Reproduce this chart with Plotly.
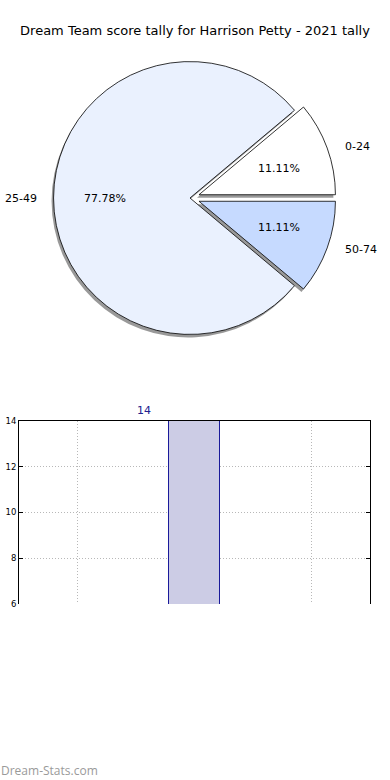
import math
import plotly.graph_objects as go

# ---- data ----
pie_labels = ["0-24", "25-49", "50-74"]
pie_values = [1, 7, 1]
pie_colors = ["#ffffff", "#eaf1fe", "#c6daff"]
pie_pulls = [0.07, 0.0, 0.07]

bar_x = [1]
bar_values = [14]
bar_grid_ticks = [0, 1, 2]
y_ticks = [6, 8, 10, 12, 14]

title_text = "Dream Team score tally for Harrison Petty - 2021 tally"
watermark = "Dream-Stats.com"

W, H = 390, 780


def px_x(p):
    return p / W


def px_y(p):
    return 1 - p / H


# pie geometry (pixels)
cx, cy = 190, 198
r_dom = 146
rx, ry = 142, 128  # used for label placement

total = sum(pie_values)
# plotly counterclockwise: first slice ends at the rotation angle -> start first slice at 3 o'clock
rotation = 90 - 360 * pie_values[0] / total

dom_x = [px_x(cx - r_dom), px_x(cx + r_dom)]
dom_y = [px_y(cy + r_dom), px_y(cy - r_dom)]
sh_dx, sh_dy = -2, 3
shadow_x = [px_x(cx - r_dom + sh_dx), px_x(cx + r_dom + sh_dx)]
shadow_y = [px_y(cy + r_dom + sh_dy), px_y(cy - r_dom + sh_dy)]

fig = go.Figure()

# shadow
fig.add_trace(go.Pie(
    labels=pie_labels, values=pie_values, sort=False, direction="counterclockwise",
    rotation=rotation, pull=pie_pulls, domain=dict(x=shadow_x, y=shadow_y),
    marker=dict(colors=["#8f8f8f"] * 3, line=dict(width=0)),
    textinfo="none", hoverinfo="skip", showlegend=False, opacity=0.9,
))
# main pie
fig.add_trace(go.Pie(
    labels=pie_labels, values=pie_values, sort=False, direction="counterclockwise",
    rotation=rotation, pull=pie_pulls, domain=dict(x=dom_x, y=dom_y),
    marker=dict(colors=pie_colors, line=dict(color="#000000", width=0.8)),
    textinfo="none", hoverinfo="label+percent", showlegend=False,
))

# labels and percentages placed from data angles
start = 0.0
annotations = []
for lab, v, pull in zip(pie_labels, pie_values, pie_pulls):
    frac = v / total
    mid = (start + frac / 2) * 2 * math.pi
    start += frac
    off = pull * 130
    ox = cx + off * math.cos(mid)
    oy = cy - off * math.sin(mid)
    tx = ox + 0.6 * rx * math.cos(mid)
    ty = oy - 0.6 * ry * math.sin(mid)
    annotations.append(dict(
        text=f"{frac * 100:.2f}%", x=px_x(tx), y=px_y(ty), xref="paper", yref="paper",
        showarrow=False, xanchor="center", yanchor="middle", borderpad=0,
        font=dict(family="DejaVu Sans", size=11, color="#000000"),
    ))
    right_side = math.cos(mid) >= 0
    lx = ox + 1.1 * rx * math.cos(mid)
    ly = oy - 1.1 * ry * math.sin(mid)
    annotations.append(dict(
        text=lab, x=px_x(lx), y=px_y(ly), xref="paper", yref="paper",
        showarrow=False, xanchor="left" if right_side else "right", yanchor="middle",
        xshift=-1 if right_side else 4, borderpad=0,
        font=dict(family="DejaVu Sans", size=11, color="#000000"),
    ))

# bar chart
fig.add_trace(go.Bar(
    x=bar_x, y=bar_values, width=0.44, xaxis="x", yaxis="y",
    marker=dict(color="#ccccE5", line=dict(color="#1a1a9a", width=1)),
    hoverinfo="y", showlegend=False,
))
for xv, yv in zip(bar_x, bar_values):
    annotations.append(dict(
        text=str(yv), x=xv, y=yv, xref="x", yref="y", showarrow=False,
        xanchor="center", yanchor="bottom", xshift=-51, yshift=2,
        font=dict(family="DejaVu Sans", size=11, color="#22228f"),
    ))

annotations.append(dict(
    text=watermark, x=0, y=px_y(770), xref="paper", yref="paper", showarrow=False,
    xanchor="left", yanchor="middle", borderpad=0,
    font=dict(family="Open Sans", size=12, color="#9a9a9a"),
))

grid_dash = "1px,2px"
fig.update_layout(
    width=W, height=H, margin=dict(l=0, r=0, t=0, b=0, autoexpand=False),
    paper_bgcolor="white", plot_bgcolor="white",
    title=dict(text=title_text, x=0.5, xref="paper", xanchor="center", y=px_y(30),
               yref="container", yanchor="middle",
               font=dict(family="DejaVu Sans", size=13, color="#000000")),
    xaxis=dict(domain=[px_x(19), px_x(370)], range=[-0.5, 2.5], side="top",
               tickvals=bar_grid_ticks, showticklabels=False, ticks="",
               showgrid=True, gridcolor="#b8b8b8", griddash=grid_dash, gridwidth=1,
               showline=True, linecolor="#000000", linewidth=1, zeroline=False,
               fixedrange=True, automargin=False),
    yaxis=dict(domain=[px_y(604), px_y(421)], range=[6, 14], tickvals=y_ticks,
               ticks="inside", ticklen=4, tickcolor="#000000",
               showline=True, mirror="ticks", linecolor="#000000", linewidth=1,
               showgrid=True, gridcolor="#b8b8b8", griddash=grid_dash, gridwidth=1,
               zeroline=False, tickfont=dict(family="DejaVu Sans", size=8.5, color="#000000"),
               fixedrange=True, automargin=False),
    annotations=annotations,
    bargap=0,
)

fig.write_html(
    "out.html",
    config={"displayModeBar": False},
    post_script="document.body.style.margin='0px';document.body.style.overflow='hidden';",
)
